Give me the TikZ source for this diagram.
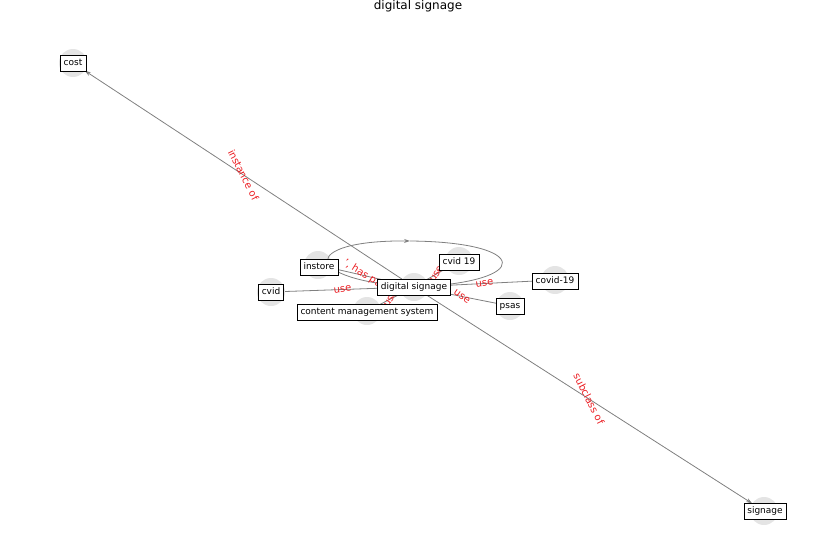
\documentclass[tikz,border=0pt]{standalone}
\usepackage{fontspec}
\setmainfont{DejaVu Sans}
\usetikzlibrary{arrows.meta}

\definecolor{edgegray}{RGB}{128,128,128}
\definecolor{dotgray}{RGB}{228,228,228}
\definecolor{labelred}{RGB}{235,30,35}

\begin{document}
\begin{tikzpicture}[x=1pt,y=-1pt,
    dot/.style={circle,fill=dotgray,minimum size=28pt,inner sep=0pt},
    tag/.style={draw=black,fill=white,line width=0.6pt,font=\fontsize{9}{10}\selectfont,
        inner xsep=3.5pt,inner ysep=3.5pt,text height=7pt,text depth=2pt},
    edge/.style={draw=edgegray,line width=0.8pt},
    arrowedge/.style={edge,-{Stealth[length=6pt,width=4pt]}},
    rel/.style={text=labelred,font=\fontsize{10}{11}\selectfont,inner sep=0pt}]

    % Fix the page to the size of the reference
    \useasboundingbox (0,0) rectangle (837,559);

    % Title at the top
    \node[font=\fontsize{12}{14}\selectfont] (title) at (418,6.5) {digital signage};

    % Grey discs that mark the graph nodes
    \node[dot] (ds) at (414,287) {};
    \node[dot] (cost) at (73,63) {};
    \node[dot] (signage) at (764,511) {};
    \node[dot] (instore) at (318,265) {};
    \node[dot] (cvid19) at (459,261) {};
    \node[dot] (covid19) at (555,280) {};
    \node[dot] (cvid) at (271,292) {};
    \node[dot] (cms) at (367,311) {};
    \node[dot] (psas) at (510,306) {};

    % Top point of the loop on digital signage
    \coordinate (looptop) at (410,241);

    % Edges with visible arrow tips
    \draw[arrowedge] (ds) -- (cost);
    \draw[arrowedge] (ds) -- (signage);

    % Edges around the centre
    \draw[edge] (instore) -- (ds);
    \draw[edge] (cvid) -- (ds);
    \draw[edge] (ds) -- (cvid19);
    \draw[edge] (ds) -- (covid19);
    \draw[edge] (ds) -- (psas);
    \draw[edge] (ds) -- (cms);

    % Loop of digital signage onto itself
    \draw[arrowedge] (ds.center) .. controls (300,280) and (300,240) .. (looptop);
    \draw[edge] (looptop) .. controls (530,242) and (535,282) .. (ds.center);

    % Red edge labels
    \path (ds.center) -- (cost.center) node[midway,rel,rotate=-63] {instance of};
    \path (ds.center) -- (signage.center) node[midway,rel,rotate=-63] {subclass of};
    \path (instore.center) -- (ds.center) node[midway,rel,rotate=-32] {', has part};
    \path (cvid.center) -- (ds.center) node[midway,rel,rotate=7] {use};
    \path (ds.center) -- (cvid19.center) node[midway,rel,rotate=59] {use};
    \path (ds.center) -- (covid19.center) node[midway,rel,rotate=8] {use};
    \path (ds.center) -- (psas.center) node[midway,rel,rotate=-35] {use};
    \path (cms.center) -- (ds.center) node[midway,rel,rotate=59] {use};

    % Boxed names, drawn last so they cover lines and labels
    \node[tag] (costtag) at (73,63) {cost};
    \node[tag] (signagetag) at (765,511) {signage};
    \node[tag] (instoretag) at (319,267) {instore};
    \node[tag] (cvidtag) at (271,292) {cvid};
    \node[tag] (cmstag) at (367,312) {content management system};
    \node[tag] (dstag) at (414,287) {digital signage};
    \node[tag] (cvid19tag) at (459,262) {cvid 19};
    \node[tag] (covid19tag) at (555,281) {covid-19};
    \node[tag] (psastag) at (510,306) {psas};

\end{tikzpicture}
\end{document}
